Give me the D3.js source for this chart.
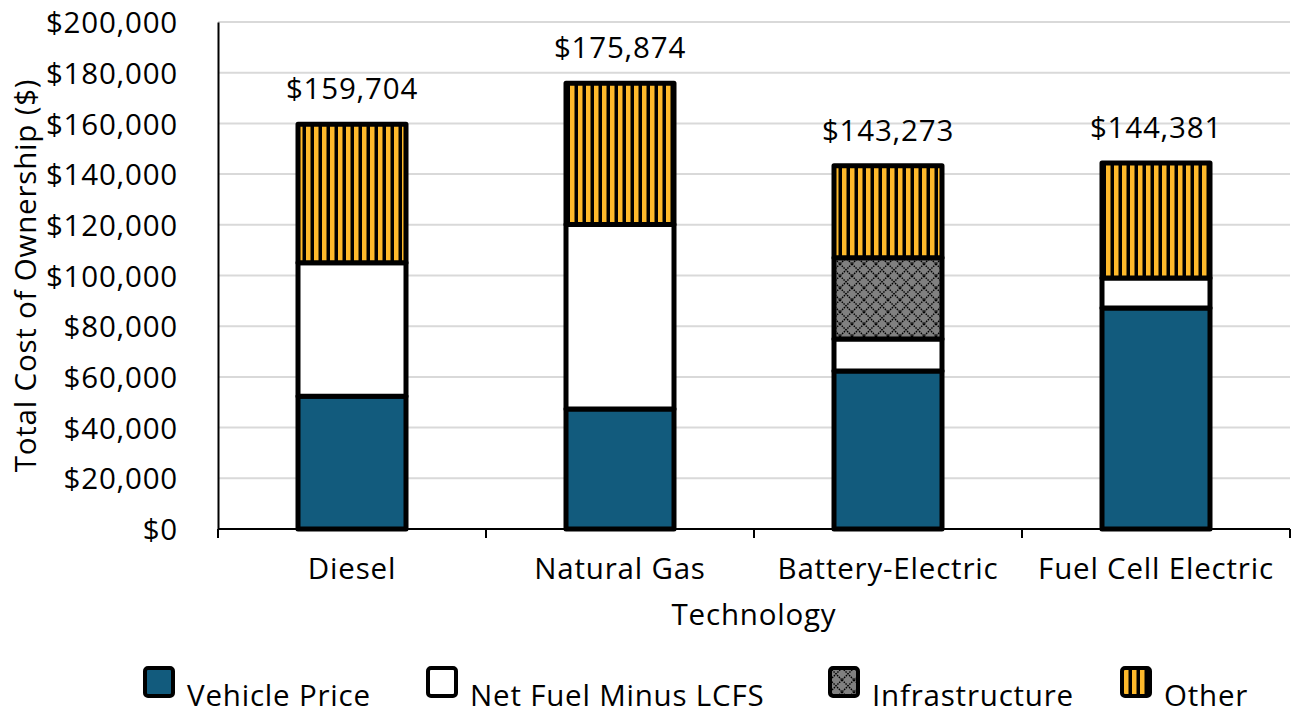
<!DOCTYPE html>
<html>
<head>
<meta charset="utf-8">
<script src="https://cdn.jsdelivr.net/npm/d3@7"></script>
<style>
	body { margin: 0; background: #fff; }
	svg text { font-family: "Open Sans", Lato, sans-serif; fill: #000; letter-spacing: 0.8px; }
</style>
</head>
<body>
<div id="chart"></div>
<script>
(function () {

	var technologies = ["Diesel", "Natural Gas", "Battery-Electric", "Fuel Cell Electric"];
	var seriesNames = ["Vehicle Price", "Net Fuel Minus LCFS", "Infrastructure", "Other"];
	var vehiclePrice = [52400, 47300, 62300, 87200];
	var netFuel = [52600, 72800, 12700, 11800];
	var infrastructure = [0, 0, 32000, 0];
	var other = [54704, 55774, 36273, 45381];
	var totals = [159704, 175874, 143273, 144381];
	var yTicks = [0, 20000, 40000, 60000, 80000, 100000, 120000, 140000, 160000, 180000, 200000];

	var width = 1299, height = 715;
	var margin = { top: 22, right: 9, bottom: 186, left: 218 };
	var fontSize = "29.5px";

	var svg = d3.select("#chart")
		.append("svg")
		.attr("width", width)
		.attr("height", height);

	var defs = svg.append("defs");

	// vertical stripes for "Other"
	var stripes = defs.append("pattern")
		.attr("id", "stripes")
		.attr("patternUnits", "userSpaceOnUse")
		.attr("width", 8)
		.attr("height", 8);
	stripes.append("rect").attr("width", 8).attr("height", 8).attr("fill", "#000");
	stripes.append("rect").attr("x", 2).attr("width", 4.5).attr("height", 8).attr("fill", "#FDB92B");

	// crosshatch for "Infrastructure"
	var hatch = defs.append("pattern")
		.attr("id", "hatch")
		.attr("patternUnits", "userSpaceOnUse")
		.attr("width", 12)
		.attr("height", 12);
	hatch.append("rect").attr("width", 12).attr("height", 12).attr("fill", "#808080");
	hatch.append("path")
		.attr("d", "M0,0L12,12M12,0L0,12")
		.attr("stroke", "#000")
		.attr("stroke-width", 1.4)
		.attr("stroke-dasharray", "1.5,1");

	var fills = ["#125B7D", "#ffffff", "url(#hatch)", "url(#stripes)"];
	var values = [vehiclePrice, netFuel, infrastructure, other];

	var x = d3.scaleBand()
		.domain(technologies)
		.range([margin.left, width - margin.right])
		.paddingInner(0)
		.paddingOuter(0);

	var y = d3.scaleLinear()
		.domain([0, 200000])
		.range([height - margin.bottom, margin.top]);

	var fmt = function (d) { return "$" + d3.format(",")(d); };

	// gridlines
	svg.append("g")
		.selectAll("line")
		.data(yTicks.slice(1))
		.enter()
		.append("line")
		.attr("x1", margin.left)
		.attr("x2", width - margin.right)
		.attr("y1", function (d) { return y(d); })
		.attr("y2", function (d) { return y(d); })
		.attr("stroke", "#D9D9D9")
		.attr("stroke-width", 2);

	// y axis
	var yAxis = svg.append("g")
		.attr("transform", "translate(" + margin.left + ",0)")
		.call(d3.axisLeft(y).tickValues(yTicks).tickFormat(fmt).tickSize(0).tickPadding(40));
	yAxis.select(".domain").attr("stroke", "#000").attr("stroke-width", 2);
	yAxis.selectAll("text").style("font-size", fontSize).attr("dy", "0.36em");

	// stacked data
	var rows = technologies.map(function (t, i) {
		var r = { tech: t };
		seriesNames.forEach(function (s, j) { r[s] = values[j][i]; });
		return r;
	});
	var stacked = d3.stack().keys(seriesNames)(rows);

	var barW = 108;
	var bars = svg.append("g");
	stacked.forEach(function (layer, j) {
		bars.selectAll(".s" + j)
			.data(layer.filter(function (d) { return d[1] - d[0] > 0; }))
			.enter()
			.append("rect")
			.attr("x", function (d) { return x(d.data.tech) + x.bandwidth() / 2 - barW / 2; })
			.attr("y", function (d) { return y(d[1]); })
			.attr("width", barW)
			.attr("height", function (d) { return y(d[0]) - y(d[1]); })
			.attr("fill", fills[j])
			.attr("stroke", "#000")
			.attr("stroke-width", 5)
			.attr("stroke-linejoin", "round");
	});

	// x axis
	var xAxisY = y(0);
	svg.append("line")
		.attr("x1", margin.left).attr("x2", width - margin.right)
		.attr("y1", xAxisY).attr("y2", xAxisY)
		.attr("stroke", "#000").attr("stroke-width", 2);
	var bounds = technologies.map(function (t) { return x(t); }).concat([width - margin.right]);
	svg.append("g")
		.selectAll("line")
		.data(bounds)
		.enter()
		.append("line")
		.attr("x1", function (d) { return d; })
		.attr("x2", function (d) { return d; })
		.attr("y1", xAxisY)
		.attr("y2", xAxisY + 9)
		.attr("stroke", "#000")
		.attr("stroke-width", 2);

	svg.append("g")
		.selectAll("text")
		.data(technologies)
		.enter()
		.append("text")
		.attr("x", function (d) { return x(d) + x.bandwidth() / 2; })
		.attr("y", 579)
		.attr("text-anchor", "middle")
		.style("font-size", fontSize)
		.text(function (d) { return d; });

	// totals
	svg.append("g")
		.selectAll("text")
		.data(totals)
		.enter()
		.append("text")
		.attr("x", function (d, i) { return x(technologies[i]) + x.bandwidth() / 2; })
		.attr("y", function (d) { return y(d) - 25; })
		.attr("text-anchor", "middle")
		.style("font-size", fontSize)
		.text(fmt);

	// axis titles
	svg.append("text")
		.attr("x", (margin.left + width - margin.right) / 2)
		.attr("y", 625)
		.attr("text-anchor", "middle")
		.style("font-size", fontSize)
		.text("Technology");

	svg.append("text")
		.attr("transform", "translate(36," + ((margin.top + height - margin.bottom) / 2) + ") rotate(-90)")
		.attr("text-anchor", "middle")
		.style("font-size", fontSize)
		.text("Total Cost of Ownership ($)");

	// legend
	var legendX = [145, 428, 830, 1122];
	var legend = svg.append("g")
		.selectAll("g")
		.data(seriesNames)
		.enter()
		.append("g")
		.attr("transform", function (d, i) { return "translate(" + legendX[i] + ",668)"; });
	legend.append("rect")
		.attr("width", 28)
		.attr("height", 28)
		.attr("rx", 3)
		.attr("fill", function (d, i) { return fills[i]; })
		.attr("stroke", "#000")
		.attr("stroke-width", 4);
	legend.append("text")
		.attr("x", 42)
		.attr("y", 38)
		.style("font-size", fontSize)
		.text(function (d) { return d; });

})();
</script>
</body>
</html>
